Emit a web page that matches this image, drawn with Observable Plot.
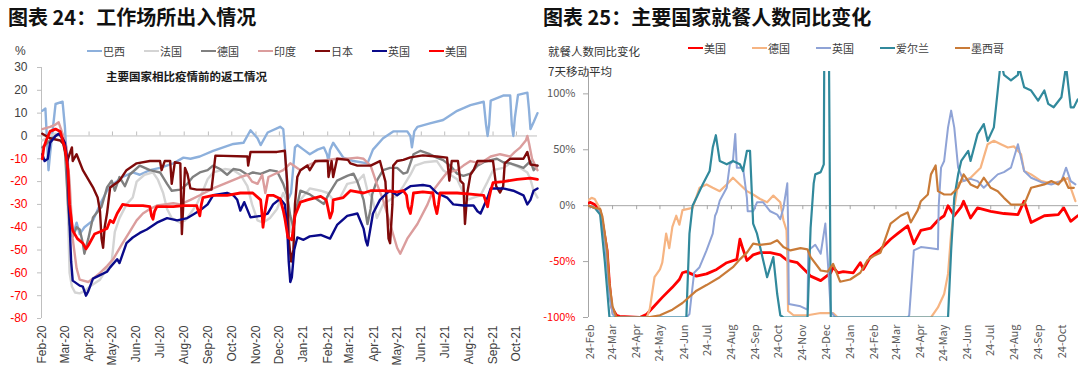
<!DOCTYPE html>
<html><head><meta charset="utf-8">
<script src="https://cdn.jsdelivr.net/npm/d3@7"></script>
<script src="https://cdn.jsdelivr.net/npm/@observablehq/plot@0.6"></script>
<style>
body{margin:0;background:#fff;width:1080px;height:372px;position:relative;overflow:hidden;font-family:"Noto Sans CJK SC",sans-serif;}
.abs{position:absolute;white-space:nowrap;}
.title{font-size:20px;font-weight:bold;color:#111;line-height:20px;}
.leg{display:flex;align-items:center;font-size:11px;color:#404040;line-height:12px;}
.leg .it{display:flex;align-items:center;}
.leg i{display:inline-block;width:15px;height:2px;margin-right:1px;}
.note{font-size:11.5px;line-height:13px;}
</style></head>
<body>
<div id="left" class="abs" style="left:0;top:56px"></div>
<div id="right" class="abs" style="left:540px;top:56px"></div>
<div class="abs title" style="left:8px;top:7px">图表 24：工作场所出入情况</div>
<div class="abs title" style="left:543px;top:7px">图表 25：主要国家就餐人数同比变化</div>
<div class="abs note" style="left:15px;top:45px;color:#404040;font-family:'Liberation Sans',Arial,sans-serif;font-size:12px">%</div>
<div id="legLeft" class="abs leg" style="left:87px;top:45px"></div>
<div id="legRight" class="abs leg" style="left:688px;top:42px"></div>
<div class="abs note" style="left:106px;top:70px;font-weight:bold;color:#1a1a1a">主要国家相比疫情前的返工情况</div>
<div class="abs note" style="left:548px;top:45px;color:#333">就餐人数同比变化</div>
<div class="abs note" style="left:548px;top:65px;color:#333">7天移动平均</div>
<script>
// ---------- Left chart data: 工作场所出入 (% vs baseline) ----------
const leftMonthTicks = ["2020-02-01","2020-03-01","2020-04-01","2020-05-01","2020-06-01","2020-07-01","2020-08-01","2020-09-01","2020-10-01","2020-11-01","2020-12-01","2021-01-01","2021-02-01","2021-03-01","2021-04-01","2021-05-01","2021-06-01","2021-07-01","2021-08-01","2021-09-01","2021-10-01"];
const leftYTicksPos = [0,10,20,30];
const leftYTicksNeg = [-80,-70,-60,-50,-40,-30,-20,-10];

const brazil = [["2020-02-01",11],["2020-02-05",12],["2020-02-09",-15],["2020-02-11",-8],["2020-02-18",14],["2020-02-27",15],["2020-03-01",4],["2020-03-05",-20],["2020-03-07",-35],["2020-03-11",-44],["2020-03-16",-38],["2020-03-20",-43],["2020-03-26",-40],["2020-04-06",-37],["2020-04-15",-30],["2020-04-24",-24],["2020-05-02",-21],["2020-05-14",-18],["2020-05-27",-16],["2020-06-05",-17],["2020-06-18",-15],["2020-07-01",-14],["2020-07-18",-12],["2020-07-31",-9.5],["2020-08-09",-10],["2020-08-21",-9],["2020-09-07",-6.5],["2020-10-03",-3.5],["2020-10-16",-3],["2020-10-25",2.5],["2020-11-03",-1],["2020-11-07",-4],["2020-11-16",1.5],["2020-12-02",4],["2020-12-06",3],["2020-12-08",-5],["2020-12-12",-28],["2020-12-16",-25],["2020-12-21",-5],["2020-12-24",-4],["2021-01-01",-6],["2021-01-09",-8],["2021-01-19",-6],["2021-01-27",-5],["2021-01-31",-8],["2021-02-02",-11],["2021-02-04",-6],["2021-02-08",-3],["2021-02-21",-9.5],["2021-03-06",-11],["2021-03-24",-12],["2021-03-31",-6],["2021-04-13",-1],["2021-04-26",2],["2021-05-14",2],["2021-05-18",0],["2021-05-20",-5],["2021-05-23",2],["2021-05-27",4],["2021-06-12",5.5],["2021-06-29",7],["2021-07-17",11],["2021-08-03",13.5],["2021-08-20",15],["2021-08-23",5],["2021-08-25",0],["2021-08-27",5],["2021-08-29",15.5],["2021-09-14",17.7],["2021-09-23",17.7],["2021-09-25",5],["2021-09-27",0],["2021-09-29",8],["2021-10-03",18],["2021-10-15",19],["2021-10-17",12],["2021-10-19",3],["2021-10-23",6],["2021-10-28",10]];

const france = [["2020-02-01",-2],["2020-02-11",0],["2020-02-18",1],["2020-02-24",0],["2020-02-28",-3],["2020-03-03",-12],["2020-03-05",-35],["2020-03-07",-60],["2020-03-10",-66],["2020-03-14",-68.6],["2020-03-20",-69],["2020-03-26",-68],["2020-04-02",-66],["2020-04-15",-63],["2020-04-24",-58],["2020-04-30",-55],["2020-05-04",-42],["2020-05-10",-36],["2020-05-19",-30],["2020-05-27",-27],["2020-06-01",-20],["2020-06-11",-17],["2020-06-22",-16],["2020-06-28",-19],["2020-07-05",-25],["2020-07-10",-32],["2020-07-16",-36],["2020-07-27",-38],["2020-08-02",-37],["2020-08-09",-34],["2020-08-17",-30],["2020-08-25",-24],["2020-08-31",-19],["2020-09-07",-16],["2020-09-22",-14.5],["2020-10-03",-15],["2020-10-12",-17],["2020-10-21",-22],["2020-10-27",-30],["2020-11-03",-37],["2020-11-10",-38],["2020-11-19",-36],["2020-11-28",-32],["2020-12-06",-25],["2020-12-12",-30],["2020-12-16",-42],["2020-12-20",-35],["2020-12-28",-28],["2021-01-09",-23],["2021-01-23",-24],["2021-02-01",-25],["2021-02-08",-28],["2021-02-17",-27],["2021-02-26",-21],["2021-03-11",-20],["2021-03-19",-17],["2021-03-24",-24],["2021-03-30",-27],["2021-04-05",-36],["2021-04-13",-30],["2021-04-22",-28],["2021-05-01",-26],["2021-05-09",-22],["2021-05-18",-17],["2021-05-24",-13],["2021-06-06",-11.5],["2021-06-21",-11],["2021-06-29",-15],["2021-07-08",-17],["2021-07-17",-19],["2021-07-25",-25],["2021-07-30",-28],["2021-08-07",-27],["2021-08-16",-26],["2021-08-25",-20],["2021-09-01",-15],["2021-09-14",-14],["2021-09-23",-12],["2021-10-06",-14],["2021-10-15",-16],["2021-10-19",-19],["2021-10-23",-24],["2021-10-28",-27]];

const germany = [["2020-02-01",-5],["2020-02-11",-2],["2020-02-18",0],["2020-02-24",1],["2020-02-28",-2],["2020-03-01",-6],["2020-03-05",-30],["2020-03-07",-38.6],["2020-03-11",-44],["2020-03-16",-40],["2020-03-20",-41],["2020-03-24",-47],["2020-03-26",-51.6],["2020-03-31",-45],["2020-04-06",-35.7],["2020-04-17",-31],["2020-04-24",-22.6],["2020-04-30",-19.6],["2020-05-04",-24],["2020-05-10",-18],["2020-05-17",-22],["2020-05-23",-17],["2020-06-05",-13],["2020-06-18",-15],["2020-07-01",-16],["2020-07-10",-21],["2020-07-16",-24],["2020-07-27",-23.5],["2020-08-05",-21],["2020-08-12",-18],["2020-08-21",-16],["2020-08-31",-15],["2020-09-07",-13],["2020-09-16",-14.5],["2020-09-25",-17],["2020-10-03",-14.5],["2020-10-12",-15],["2020-10-21",-17],["2020-10-28",-16],["2020-11-07",-16.6],["2020-11-19",-15],["2020-11-28",-15.5],["2020-12-06",-21],["2020-12-11",-26],["2020-12-15",-35],["2020-12-19",-40],["2020-12-22",-33],["2020-12-28",-24],["2021-01-09",-25.6],["2021-01-19",-28],["2021-01-27",-29.8],["2021-02-02",-25.6],["2021-02-13",-19.6],["2021-02-26",-17.5],["2021-03-06",-16.5],["2021-03-11",-20],["2021-03-15",-24],["2021-03-19",-28],["2021-03-24",-38.6],["2021-03-28",-32],["2021-03-30",-25.6],["2021-04-05",-19.6],["2021-04-13",-15],["2021-04-22",-14],["2021-05-01",-14],["2021-05-09",-16.5],["2021-05-14",-16],["2021-05-22",-8],["2021-05-31",-6.5],["2021-06-12",-8],["2021-06-21",-9.5],["2021-06-29",-10.6],["2021-07-08",-13],["2021-07-17",-16.5],["2021-07-25",-17.5],["2021-08-03",-16.5],["2021-08-12",-13],["2021-08-20",-11.5],["2021-08-29",-10.6],["2021-09-06",-10],["2021-09-14",-11.5],["2021-09-23",-12],["2021-10-02",-13],["2021-10-10",-14],["2021-10-19",-11],["2021-10-23",-15],["2021-10-28",-13]];

const india = [["2020-02-01",3],["2020-02-11",4],["2020-02-18",5],["2020-02-22",6],["2020-02-28",0],["2020-03-03",-5],["2020-03-07",-20],["2020-03-11",-45],["2020-03-16",-58],["2020-03-20",-63],["2020-03-31",-64],["2020-04-06",-62.5],["2020-04-15",-60],["2020-04-24",-57],["2020-05-02",-54],["2020-05-07",-51],["2020-05-14",-47],["2020-05-23",-42],["2020-06-01",-37],["2020-06-09",-34],["2020-06-18",-32],["2020-06-27",-30.5],["2020-07-07",-30],["2020-07-18",-29.5],["2020-07-27",-30],["2020-08-09",-28],["2020-08-21",-26],["2020-09-07",-23],["2020-09-25",-20.5],["2020-10-12",-18],["2020-10-21",-17],["2020-10-27",-20],["2020-11-03",-21],["2020-11-09",-17],["2020-11-13",-25],["2020-11-17",-18],["2020-11-23",-17],["2020-12-06",-15],["2020-12-15",-12],["2020-12-28",-15],["2021-01-06",-13],["2021-01-19",-11],["2021-02-01",-10.5],["2021-02-13",-10],["2021-02-26",-10],["2021-03-11",-9.5],["2021-03-19",-10],["2021-03-28",-13],["2021-04-05",-21],["2021-04-13",-28],["2021-04-22",-38.6],["2021-05-01",-49],["2021-05-05",-51.6],["2021-05-14",-45],["2021-05-27",-38.6],["2021-06-09",-30],["2021-06-16",-24],["2021-06-25",-20],["2021-07-04",-16],["2021-07-17",-15],["2021-07-25",-13],["2021-08-03",-11],["2021-08-16",-12],["2021-08-29",-9],["2021-09-10",-8],["2021-09-23",-9],["2021-09-29",-7],["2021-10-06",-5],["2021-10-13",-2],["2021-10-15",0],["2021-10-17",-3],["2021-10-21",-10],["2021-10-28",-15]];

const japan = [["2020-02-01",1],["2020-02-11",-1],["2020-02-24",-2],["2020-02-28",-3.5],["2020-03-04",-11],["2020-03-07",-8],["2020-03-10",-5],["2020-03-11",-11],["2020-03-16",-8],["2020-03-24",-15],["2020-04-06",-22.5],["2020-04-12",-27],["2020-04-15",-33],["2020-04-17",-45],["2020-04-19",-49],["2020-04-21",-40],["2020-04-24",-34],["2020-04-28",-22.6],["2020-05-10",-19.6],["2020-05-19",-15],["2020-06-01",-12],["2020-06-18",-11],["2020-07-01",-11],["2020-07-03",-15],["2020-07-07",-11],["2020-07-14",-11],["2020-07-16",-21],["2020-07-20",-11.5],["2020-07-27",-12],["2020-07-29",-43],["2020-08-02",-14],["2020-08-05",-16.5],["2020-08-09",-23],["2020-08-17",-23.5],["2020-09-05",-23.5],["2020-09-10",-8.6],["2020-10-21",-9],["2020-10-22",-13],["2020-10-25",-7],["2020-11-28",-7],["2020-12-08",-6.5],["2020-12-11",-20],["2020-12-13",-45],["2020-12-16",-55],["2020-12-19",-50],["2020-12-21",-30],["2020-12-24",-18],["2020-12-28",-15],["2021-01-06",-13],["2021-01-09",-15],["2021-01-16",-11],["2021-02-01",-11],["2021-02-02",-18],["2021-02-06",-11],["2021-02-08",-18],["2021-02-13",-10],["2021-02-27",-10.5],["2021-03-02",-12],["2021-03-11",-13],["2021-03-28",-13],["2021-04-09",-11],["2021-04-16",-20],["2021-04-20",-45],["2021-04-22",-47],["2021-04-25",-30],["2021-04-26",-13],["2021-05-01",-11],["2021-05-09",-10.5],["2021-05-18",-9.4],["2021-06-03",-8.5],["2021-06-21",-9],["2021-07-04",-9.5],["2021-07-07",-19.6],["2021-07-10",-11],["2021-07-18",-11],["2021-07-21",-19.6],["2021-07-25",-21],["2021-07-27",-38.6],["2021-07-30",-25],["2021-08-03",-17],["2021-08-07",-15],["2021-08-12",-11],["2021-09-01",-11],["2021-09-05",-22],["2021-09-10",-24.8],["2021-09-14",-22],["2021-09-16",-12],["2021-09-23",-10],["2021-10-10",-10],["2021-10-15",-7],["2021-10-19",-12.5],["2021-10-28",-13]];

const uk = [["2020-02-01",-8],["2020-02-04",-11],["2020-02-08",-10],["2020-02-11",-3],["2020-02-18",0],["2020-02-22",1],["2020-02-27",-1],["2020-03-01",-3],["2020-03-04",-10],["2020-03-06",-30],["2020-03-09",-55],["2020-03-11",-63.4],["2020-03-20",-65.6],["2020-03-24",-66],["2020-03-28",-70],["2020-03-31",-68],["2020-04-06",-62.5],["2020-04-15",-61],["2020-04-24",-59.5],["2020-04-28",-57.6],["2020-05-07",-54],["2020-05-10",-55.7],["2020-05-19",-47],["2020-05-27",-44.5],["2020-06-05",-42.5],["2020-06-14",-41],["2020-06-27",-38],["2020-07-10",-36],["2020-07-23",-37],["2020-08-05",-36],["2020-08-12",-34.5],["2020-08-21",-32.7],["2020-08-31",-30],["2020-09-07",-26],["2020-09-25",-25],["2020-10-03",-26],["2020-10-08",-28],["2020-10-12",-32.7],["2020-10-17",-29],["2020-10-25",-35.7],["2020-11-07",-35],["2020-11-16",-34],["2020-11-23",-30],["2020-12-02",-27.5],["2020-12-08",-30],["2020-12-11",-40],["2020-12-13",-55],["2020-12-15",-64],["2020-12-17",-62],["2020-12-20",-50],["2020-12-24",-44.5],["2021-01-01",-45.5],["2021-01-09",-44],["2021-01-23",-43.4],["2021-02-04",-45],["2021-02-13",-39],["2021-02-26",-35],["2021-03-11",-34],["2021-03-19",-40.6],["2021-03-22",-46],["2021-03-24",-48],["2021-03-28",-40],["2021-03-31",-34],["2021-04-09",-28],["2021-04-18",-25],["2021-04-22",-24],["2021-05-01",-26],["2021-05-09",-24],["2021-05-18",-22],["2021-06-03",-21.5],["2021-06-12",-22],["2021-06-21",-25],["2021-07-04",-27],["2021-07-12",-30],["2021-07-25",-30.5],["2021-08-07",-30.5],["2021-08-12",-33],["2021-08-16",-34],["2021-08-21",-30],["2021-08-25",-27],["2021-08-29",-23],["2021-09-14",-23],["2021-09-27",-24],["2021-10-10",-26],["2021-10-15",-30],["2021-10-19",-28],["2021-10-23",-24],["2021-10-28",-23]];

const usWork = [["2020-02-01",-10],["2020-02-03",-5],["2020-02-06",-2],["2020-02-11",2],["2020-02-18",3],["2020-02-24",2],["2020-02-28",-3],["2020-03-01",-5],["2020-03-05",-15],["2020-03-07",-30],["2020-03-11",-41.5],["2020-03-17",-45],["2020-03-24",-47],["2020-03-28",-49.5],["2020-03-31",-48],["2020-04-08",-43],["2020-04-15",-42],["2020-04-24",-40.6],["2020-04-28",-37],["2020-05-02",-38],["2020-05-07",-34],["2020-05-14",-30],["2020-05-23",-30.5],["2020-06-09",-30.5],["2020-06-18",-31],["2020-06-20",-35],["2020-06-22",-36.5],["2020-06-24",-33],["2020-06-27",-31],["2020-07-18",-31],["2020-07-31",-30.5],["2020-08-17",-30.5],["2020-08-20",-34],["2020-08-21",-35],["2020-08-23",-30],["2020-08-25",-27],["2020-09-07",-26],["2020-09-25",-26],["2020-10-12",-25],["2020-10-28",-25],["2020-11-07",-28],["2020-11-09",-35],["2020-11-10",-40],["2020-11-13",-32],["2020-11-16",-26],["2020-11-23",-26],["2020-12-02",-27.5],["2020-12-06",-32.7],["2020-12-08",-36],["2020-12-12",-44.5],["2020-12-17",-45.5],["2020-12-21",-35],["2020-12-28",-29],["2021-01-06",-28],["2021-01-23",-26.5],["2021-01-30",-28],["2021-02-01",-31],["2021-02-04",-36],["2021-02-07",-33],["2021-02-08",-28],["2021-02-21",-27],["2021-03-02",-24],["2021-03-19",-25],["2021-03-28",-24],["2021-04-13",-24],["2021-05-01",-24.5],["2021-05-09",-24],["2021-05-13",-26],["2021-05-15",-31],["2021-05-18",-34],["2021-05-20",-30],["2021-05-22",-25],["2021-06-03",-24.5],["2021-06-16",-25],["2021-06-18",-30],["2021-06-21",-34],["2021-06-23",-30],["2021-06-25",-25],["2021-07-17",-25],["2021-08-03",-25.5],["2021-08-20",-26],["2021-08-23",-29],["2021-08-25",-31],["2021-08-27",-27],["2021-08-29",-24],["2021-09-01",-20.5],["2021-09-14",-20],["2021-10-02",-19],["2021-10-19",-18.5],["2021-10-28",-19]];

// ---------- Right chart data: 就餐人数同比变化 (%) ----------
const rightTicks = ["2020-02-24","2020-03-24","2020-04-24","2020-05-24","2020-06-24","2020-07-24","2020-08-24","2020-09-24","2020-10-24","2020-11-24","2020-12-24","2021-01-24","2021-02-24","2021-03-24","2021-04-24","2021-05-24","2021-06-24","2021-07-24","2021-08-24","2021-09-24","2021-10-24"];
const rightYTicksPos = [0,50,100];
const rightYTicksNeg = [-100,-50];

const usDine = [["2020-02-22",2],["2020-02-24",3],["2020-03-01",1],["2020-03-08",-4.5],["2020-03-11",-15],["2020-03-17",-40],["2020-03-20",-70],["2020-03-23",-91],["2020-03-29",-98],["2020-04-02",-99],["2020-04-28",-100],["2020-05-07",-97],["2020-05-15",-91],["2020-05-27",-82],["2020-06-09",-73],["2020-06-18",-66],["2020-06-22",-60],["2020-06-27",-59],["2020-07-10",-63],["2020-07-23",-61],["2020-08-05",-57],["2020-08-18",-51],["2020-08-31",-48],["2020-09-04",-30],["2020-09-08",-39],["2020-09-13",-49],["2020-09-21",-44],["2020-09-30",-42],["2020-10-13",-42],["2020-10-26",-44],["2020-11-04",-49],["2020-11-17",-51],["2020-11-30",-60],["2020-12-04",-63],["2020-12-17",-67],["2020-12-30",-60],["2021-01-02",-55],["2021-01-08",-60],["2021-01-15",-59],["2021-01-28",-60],["2021-02-06",-51],["2021-02-10",-57],["2021-02-19",-46],["2021-03-04",-39],["2021-03-17",-30],["2021-03-26",-25],["2021-04-08",-18],["2021-04-16",-34],["2021-04-25",-22],["2021-05-08",-20],["2021-05-17",-13],["2021-05-25",-9],["2021-05-30",0],["2021-06-07",-9],["2021-06-16",-1],["2021-06-19",4],["2021-06-28",-11],["2021-07-07",-2],["2021-07-24",-5],["2021-08-10",-7],["2021-08-28",-8],["2021-09-05",4],["2021-09-14",-15],["2021-10-01",-9],["2021-10-19",-8],["2021-10-26",-2],["2021-11-04",-14],["2021-11-13",-9]];

const germanyDine = [["2020-02-22",5],["2020-02-26",7],["2020-03-01",6],["2020-03-08",-3],["2020-03-14",-30],["2020-03-20",-75],["2020-03-24",-96],["2020-03-29",-100],["2020-05-07",-100],["2020-05-11",-92],["2020-05-17",-64],["2020-05-24",-57],["2020-05-27",-51],["2020-06-01",-25],["2020-06-05",-38],["2020-06-09",-19],["2020-06-14",-9],["2020-06-18",-17],["2020-06-22",-4],["2020-07-05",-2],["2020-07-14",16],["2020-07-23",19],["2020-07-31",16],["2020-08-09",13],["2020-08-18",19],["2020-08-26",25],["2020-09-04",19],["2020-09-13",13],["2020-09-21",10],["2020-09-30",6],["2020-10-09",3],["2020-10-17",9],["2020-10-26",3],["2020-10-30",-13],["2020-11-03",-22],["2020-11-04",-46],["2020-11-05",-94],["2020-11-12",-98],["2020-11-30",-98],["2020-12-17",-96],["2021-01-02",-96],["2021-01-08",-100],["2021-05-08",-100],["2021-05-17",-91],["2021-05-25",-79],["2021-05-30",-61],["2021-06-03",-25],["2021-06-07",-2],["2021-06-12",20],["2021-06-28",25],["2021-07-11",34],["2021-07-20",55],["2021-07-28",58],["2021-08-06",55],["2021-08-15",52],["2021-08-23",53],["2021-09-01",46],["2021-09-05",31],["2021-09-14",28],["2021-09-27",22],["2021-10-10",20],["2021-10-23",22],["2021-11-01",25],["2021-11-04",16],["2021-11-10",4]];

const ukDine = [["2020-02-22",0],["2020-03-01",-2],["2020-03-08",-5],["2020-03-14",-30],["2020-03-20",-80],["2020-03-24",-97],["2020-03-29",-100],["2020-06-27",-100],["2020-07-01",-97],["2020-07-07",-60],["2020-07-14",-55],["2020-07-23",-40],["2020-07-31",-25],["2020-08-03",-9],["2020-08-05",-6],["2020-08-09",4.5],["2020-08-18",16],["2020-08-22",37],["2020-08-26",40],["2020-08-29",64],["2020-08-31",34],["2020-09-08",34],["2020-09-13",7],["2020-09-14",-5],["2020-09-21",-5],["2020-09-26",3],["2020-10-04",3],["2020-10-13",-5],["2020-10-22",-8],["2020-10-26",-12],["2020-10-30",-2],["2020-11-04",20],["2020-11-05",-15],["2020-11-06",-88],["2020-11-21",-90],["2020-11-30",-93],["2020-12-01",-40],["2020-12-10",-35],["2020-12-17",-43],["2020-12-23",-16],["2020-12-27",-59],["2020-12-30",-95],["2021-01-05",-100],["2021-04-08",-100],["2021-04-10",-98],["2021-04-16",-40],["2021-04-25",-37],["2021-05-08",-38],["2021-05-17",-39],["2021-05-18",0],["2021-05-21",34],["2021-05-25",40],["2021-05-30",70],["2021-06-03",85],["2021-06-07",70],["2021-06-12",34],["2021-06-19",22],["2021-06-28",24],["2021-07-07",22],["2021-07-15",16],["2021-07-24",22],["2021-08-02",28],["2021-08-10",30],["2021-08-19",34],["2021-08-28",55],["2021-09-05",31],["2021-09-14",25],["2021-09-27",21],["2021-10-10",19],["2021-10-23",22],["2021-10-29",34],["2021-11-04",22],["2021-11-10",19]];

const irelandDine = [["2020-02-22",0],["2020-03-01",-2],["2020-03-08",-8],["2020-03-14",-50],["2020-03-20",-100],["2020-06-27",-100],["2020-07-01",-25],["2020-07-05",0],["2020-07-10",7],["2020-07-18",19],["2020-07-27",31],["2020-07-31",52],["2020-08-04",63],["2020-08-09",40],["2020-08-18",37],["2020-08-26",40],["2020-09-04",37],["2020-09-08",31],["2020-09-13",49],["2020-09-17",49],["2020-09-21",-16],["2020-09-26",-25],["2020-09-30",-37],["2020-10-09",-64],["2020-10-13",-55],["2020-10-17",-46],["2020-10-22",-79],["2020-10-26",-98],["2020-10-30",-100],["2020-11-30",-100],["2020-12-04",-20],["2020-12-08",20],["2020-12-10",28],["2020-12-17",30],["2020-12-21",37],["2020-12-22",200],["2020-12-27",200],["2020-12-30",-100],["2021-05-30",-100],["2021-06-03",-40],["2021-06-07",7],["2021-06-12",28],["2021-06-16",40],["2021-06-25",49],["2021-06-28",40],["2021-07-07",64],["2021-07-15",73],["2021-07-20",58],["2021-07-28",70],["2021-08-02",103],["2021-08-06",130],["2021-08-10",117],["2021-08-19",112],["2021-08-28",117],["2021-08-29",125],["2021-09-05",106],["2021-09-14",103],["2021-09-23",94],["2021-10-01",103],["2021-10-06",91],["2021-10-13",88],["2021-10-23",97],["2021-10-29",125],["2021-11-04",88],["2021-11-08",88],["2021-11-13",95]];

const mexicoDine = [["2020-02-22",0],["2020-03-01",-2],["2020-03-08",-3],["2020-03-11",-10],["2020-03-17",-40],["2020-03-20",-70],["2020-03-24",-90],["2020-03-29",-100],["2020-05-07",-100],["2020-05-24",-98],["2020-06-09",-93],["2020-06-22",-87],["2020-07-10",-76],["2020-07-23",-71],["2020-08-09",-64],["2020-08-26",-55],["2020-09-04",-48],["2020-09-13",-42],["2020-09-21",-34],["2020-09-30",-35],["2020-10-13",-34],["2020-10-22",-31],["2020-10-30",-37],["2020-11-08",-40],["2020-11-21",-38],["2020-11-30",-39],["2020-12-04",-46],["2020-12-17",-58],["2020-12-26",-59],["2021-01-02",-52],["2021-01-11",-68],["2021-01-24",-66],["2021-02-06",-60],["2021-02-15",-49],["2021-02-23",-45],["2021-03-04",-42],["2021-03-17",-16],["2021-03-30",-9],["2021-04-08",-6],["2021-04-12",-15],["2021-04-21",-4],["2021-04-25",4],["2021-05-04",10],["2021-05-08",28],["2021-05-14",36],["2021-05-17",13],["2021-05-25",10],["2021-06-03",10],["2021-06-12",16],["2021-06-19",28],["2021-06-28",19],["2021-07-07",16],["2021-07-15",25],["2021-07-24",16],["2021-08-02",13],["2021-08-10",7],["2021-08-19",1],["2021-09-05",1],["2021-09-14",16],["2021-10-01",19],["2021-10-10",22],["2021-10-19",19],["2021-10-26",25],["2021-11-01",16],["2021-11-08",16]];

// ---------- build ----------
const parse = d3.utcParse("%Y-%m-%d");
const toRows = (arr) => arr.map(([d, v]) => ({date: parse(d), value: v}));

const leftSeries = [
  {name: "巴西", color: "#8DB0DC", w: 2.4, data: brazil},
  {name: "法国", color: "#D4D4D4", w: 2.4, data: france},
  {name: "德国", color: "#808080", w: 2.4, data: germany},
  {name: "印度", color: "#DB9D9D", w: 2.4, data: india},
  {name: "日本", color: "#7F0A0A", w: 2.4, data: japan},
  {name: "英国", color: "#0A0A8A", w: 2.4, data: uk},
  {name: "美国", color: "#FF0000", w: 2.8, data: usWork}
];
const rightSeries = [
  {name: "美国", color: "#FF0000", w: 2.8, data: usDine},
  {name: "德国", color: "#F6B482", w: 2.2, data: germanyDine},
  {name: "英国", color: "#8FA3D6", w: 2, data: ukDine},
  {name: "爱尔兰", color: "#31899C", w: 2.2, data: irelandDine},
  {name: "墨西哥", color: "#C97B38", w: 2.2, data: mexicoDine}
];

function legend(el, series, gap) {
  const box = document.getElementById(el);
  series.forEach((s, i) => {
    const it = document.createElement("div");
    it.className = "it";
    if (i < series.length - 1) it.style.marginRight = gap + "px";
    it.innerHTML = `<i style="background:${s.color}"></i><span>${s.name}</span>`;
    box.appendChild(it);
  });
}
legend("legLeft", leftSeries, 19);
legend("legRight", rightSeries, 26);

const leftTicks = leftMonthTicks.map(parse);
const leftStart = parse("2020-01-31");
const leftPlot = Plot.plot({
  width: 540, height: 316,
  marginTop: 11, marginBottom: 54, marginLeft: 41, marginRight: 3,
  x: {type: "utc", domain: [leftStart, parse("2021-10-28")]},
  y: {domain: [-80, 30]},
  style: {fontFamily: "'Liberation Sans', Arial, sans-serif", fontSize: "12px", background: "transparent", color: "#404040"},
  marks: [
    Plot.ruleY([0], {stroke: "#BFBFBF"}),
    Plot.ruleX(leftTicks, {x: d => d, y1: 0, y2: 0, insetTop: -4, stroke: "#BFBFBF"}),
    Plot.ruleX([leftStart], {stroke: "#BFBFBF"}),
    ...leftSeries.map(s => Plot.line(toRows(s.data), {x: "date", y: "value", stroke: s.color, strokeWidth: s.w, strokeLinejoin: "round"})),
    Plot.axisY(leftYTicksPos, {tickSize: 4, tickPadding: 10, stroke: "#BFBFBF", fill: "#404040", tickFormat: d => String(d), label: null}),
    Plot.axisY(leftYTicksNeg, {tickSize: 4, tickPadding: 10, stroke: "#BFBFBF", fill: "#FF0000", tickFormat: d => String(d), label: null}),
    Plot.axisX(leftTicks, {tickSize: 0, tickPadding: 7, tickRotate: -90, fill: "#404040", tickFormat: d3.utcFormat("%b-%y"), label: null})
  ]
});
document.getElementById("left").appendChild(leftPlot);

const rightTickDates = rightTicks.map(parse);
const rightStart = parse("2020-02-22");
const rightPlot = Plot.plot({
  width: 540, height: 316,
  marginTop: 15, marginBottom: 55, marginLeft: 48, marginRight: 2,
  x: {type: "utc", domain: [rightStart, parse("2021-11-14")]},
  y: {domain: [-100, 120]},
  style: {fontFamily: "'Noto Sans CJK SC', sans-serif", fontSize: "11px", background: "transparent", color: "#595959"},
  marks: [
    Plot.ruleY([0], {stroke: "#A6A6A6"}),
    Plot.ruleX(rightTickDates, {x: d => d, y1: 0, y2: 0, insetBottom: -4, stroke: "#A6A6A6"}),
    Plot.ruleX([rightStart], {stroke: "#A6A6A6"}),
    ...rightSeries.map(s => Plot.line(toRows(s.data), {x: "date", y: "value", stroke: s.color, strokeWidth: s.w, strokeLinejoin: "round", clip: true})),
    Plot.axisY(rightYTicksPos, {tickSize: 5, tickPadding: 8, stroke: "#A6A6A6", fill: "#595959", tickFormat: d => d + "%", label: null}),
    Plot.axisY(rightYTicksNeg, {tickSize: 5, tickPadding: 8, stroke: "#A6A6A6", fill: "#FF0000", tickFormat: d => d + "%", label: null}),
    Plot.axisX(rightTickDates, {tickSize: 0, tickPadding: 7, tickRotate: -90, fill: "#595959", tickFormat: d3.utcFormat("%d-%b"), label: null})
  ]
});
document.getElementById("right").appendChild(rightPlot);
</script>
</body></html>
